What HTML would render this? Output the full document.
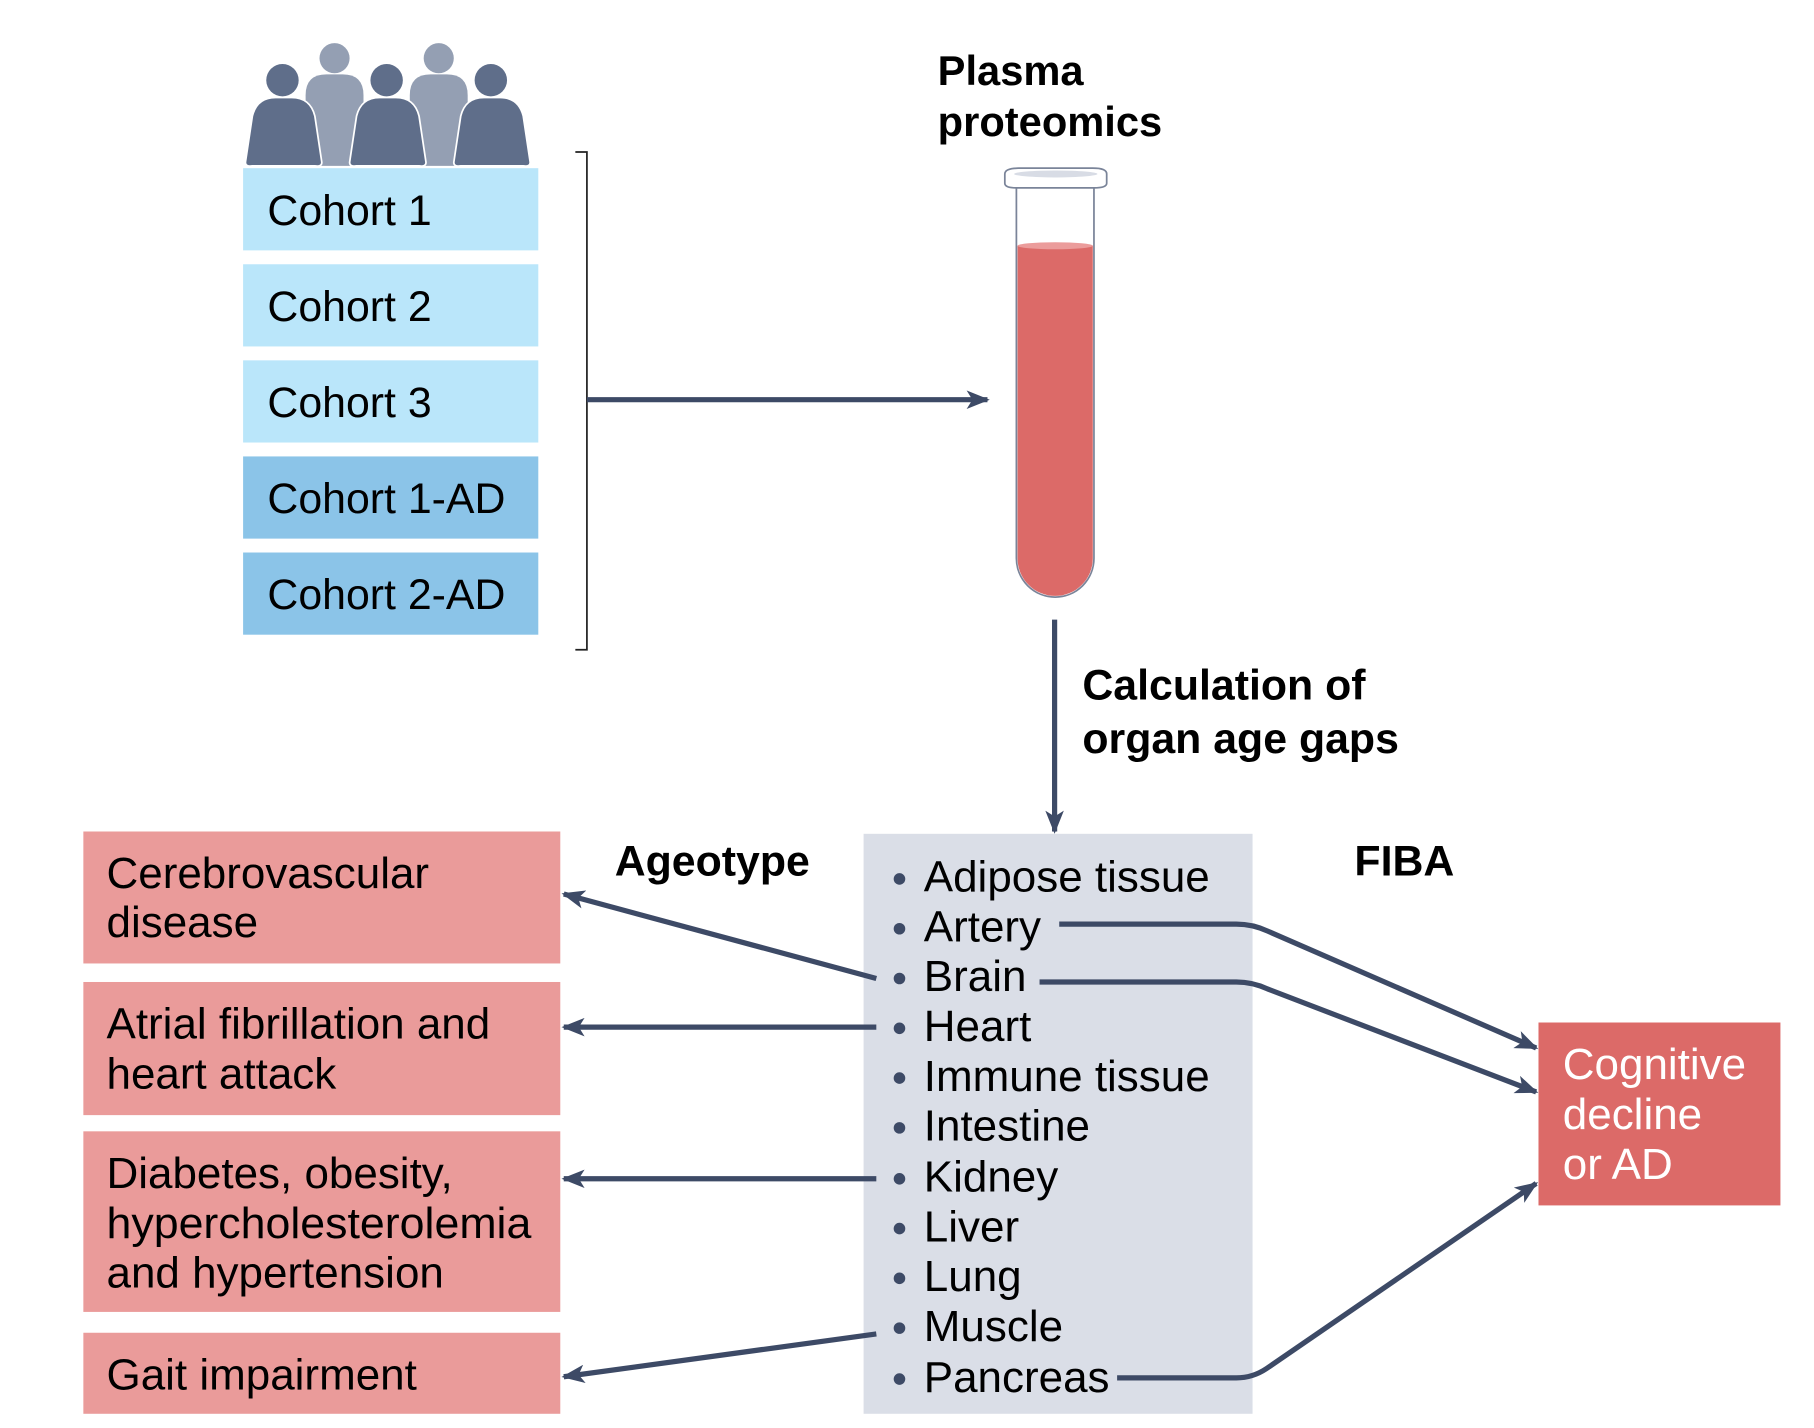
<!DOCTYPE html>
<html><head><meta charset="utf-8"><style>html,body{margin:0;padding:0;background:#fff}svg{display:block}</style></head>
<body>
<svg width="1814" height="1428" viewBox="0 0 1567 1233" xmlns="http://www.w3.org/2000/svg" font-family="Liberation Sans, sans-serif">
<defs>
<marker id="ah2" markerWidth="20" markerHeight="16" refX="18" refY="8" orient="auto" markerUnits="userSpaceOnUse">
<path d="M0,0 L20,8 L0,16 L5,8 Z" fill="#3d4a66"/>
</marker>
</defs>
<!-- people -->
<g fill="#949fb3">
<circle cx="289" cy="50" r="13"/><path d="M264,143 V82 Q264,64 282,64 H296 Q314,64 314,82 V143 Z"/>
<circle cx="379" cy="50" r="13"/><path d="M354,143 V82 Q354,64 372,64 H386 Q404,64 404,82 V143 Z"/>
</g>
<g fill="#5f6e8a" stroke="#fff" stroke-width="1.5">
<circle cx="244" cy="69" r="14" stroke="none"/><path d="M212,140 L218,100 Q222,84 238,84 H252 Q268,84 272,100 L278,140 Q278,144 272,143 H218 Q212,144 212,140 Z"/>
<circle cx="334" cy="69" r="14" stroke="none"/><path d="M302,140 L308,100 Q312,84 328,84 H342 Q358,84 362,100 L368,140 Q368,144 362,143 H308 Q302,144 302,140 Z"/>
<circle cx="424" cy="69" r="14" stroke="none"/><path d="M392,140 L398,100 Q402,84 418,84 H432 Q448,84 452,100 L458,140 Q458,144 452,143 H398 Q392,144 392,140 Z"/>
</g>
<!-- cohorts -->
<g font-size="37" fill="#000">
<rect x="210" y="145" width="255" height="71" fill="#bae6fa"/><text x="231" y="194">Cohort 1</text>
<rect x="210" y="228" width="255" height="71" fill="#bae6fa"/><text x="231" y="277">Cohort 2</text>
<rect x="210" y="311" width="255" height="71" fill="#bae6fa"/><text x="231" y="360">Cohort 3</text>
<rect x="210" y="394" width="255" height="71" fill="#8bc4e8"/><text x="231" y="443">Cohort 1-AD</text>
<rect x="210" y="477" width="255" height="71" fill="#8bc4e8"/><text x="231" y="526">Cohort 2-AD</text>
</g>
<path d="M497,131 H507 V561 H497" fill="none" stroke="#222" stroke-width="1.5"/>
<line x1="507" y1="345" x2="853" y2="345" stroke="#3d4a66" stroke-width="4.5" marker-end="url(#ah2)"/>
<!-- tube -->
<text x="810" y="73" font-size="36" font-weight="bold">Plasma</text>
<text x="810" y="117" font-size="36" font-weight="bold">proteomics</text>
<path d="M878,162 V482 A33.5,33.5 0 0 0 945,482 V162" fill="#fff" stroke="#7a8499" stroke-width="1.5"/>
<path d="M879,212 V482 A32.5,32.5 0 0 0 944,482 V212 Z" fill="#dc6a68"/>
<ellipse cx="911.5" cy="212" rx="32.5" ry="3" fill="#eb9c9b"/>
<path d="M868,150 Q868,145 880,145 H944 Q956,145 956,150 V158 Q956,162 945,162 H878 Q868,162 868,158 Z" fill="#fff" stroke="#7a8499" stroke-width="1.5"/>
<ellipse cx="912" cy="150" rx="36" ry="3" fill="#d8dce5"/>
<line x1="911" y1="535" x2="911" y2="718" stroke="#3d4a66" stroke-width="4.5" marker-end="url(#ah2)"/>
<text x="935" y="604" font-size="37" font-weight="bold">Calculation of</text>
<text x="935" y="650" font-size="37" font-weight="bold">organ age gaps</text>
<!-- organ box -->
<rect x="746" y="720" width="336" height="501" fill="#dadee7"/>
<g font-size="38" fill="#000">
<text x="798" y="770">Adipose tissue</text>
<text x="798" y="813">Artery</text>
<text x="798" y="856">Brain</text>
<text x="798" y="899">Heart</text>
<text x="798" y="942">Immune tissue</text>
<text x="798" y="985">Intestine</text>
<text x="798" y="1029">Kidney</text>
<text x="798" y="1072">Liver</text>
<text x="798" y="1115">Lung</text>
<text x="798" y="1158">Muscle</text>
<text x="798" y="1202">Pancreas</text>
</g>
<g fill="#3d4a66">
<circle cx="777" cy="759" r="5"/><circle cx="777" cy="802" r="5"/><circle cx="777" cy="845" r="5"/><circle cx="777" cy="888" r="5"/><circle cx="777" cy="931" r="5"/><circle cx="777" cy="974" r="5"/><circle cx="777" cy="1018" r="5"/><circle cx="777" cy="1061" r="5"/><circle cx="777" cy="1104" r="5"/><circle cx="777" cy="1147" r="5"/><circle cx="777" cy="1191" r="5"/>
</g>
<text x="531" y="756" font-size="37" font-weight="bold">Ageotype</text>
<text x="1170" y="756" font-size="37" font-weight="bold">FIBA</text>
<!-- left boxes -->
<g fill="#ea9b9a">
<rect x="72" y="718" width="412" height="114"/>
<rect x="72" y="848" width="412" height="115"/>
<rect x="72" y="977" width="412" height="156"/>
<rect x="72" y="1151" width="412" height="70"/>
</g>
<g font-size="38" fill="#000">
<text x="92" y="767">Cerebrovascular</text><text x="92" y="809">disease</text>
<text x="92" y="897">Atrial fibrillation and</text><text x="92" y="940">heart attack</text>
<text x="92" y="1026">Diabetes, obesity,</text><text x="92" y="1069" textLength="367" lengthAdjust="spacingAndGlyphs">hypercholesterolemia</text><text x="92" y="1112">and hypertension</text>
<text x="92" y="1200">Gait impairment</text>
</g>
<rect x="1329" y="883" width="209" height="158" fill="#dc6a68"/>
<g font-size="38" fill="#fff">
<text x="1350" y="932">Cognitive</text><text x="1350" y="975">decline</text><text x="1350" y="1018">or AD</text>
</g>
<!-- arrows -->
<g stroke="#3d4a66" stroke-width="4.5" fill="none" marker-end="url(#ah2)">
<line x1="757" y1="845" x2="487" y2="772"/>
<line x1="757" y1="887" x2="487" y2="887"/>
<line x1="757" y1="1018" x2="487" y2="1018"/>
<line x1="757" y1="1152" x2="487" y2="1189"/>
<path d="M915,798 H1068 Q1082,798 1095,804 L1327,905"/>
<path d="M898,848 H1068 Q1082,848 1095,854 L1327,943"/>
<path d="M965,1190 H1068 Q1082,1190 1094,1182 L1327,1022"/>
</g>
</svg>
</body></html>
